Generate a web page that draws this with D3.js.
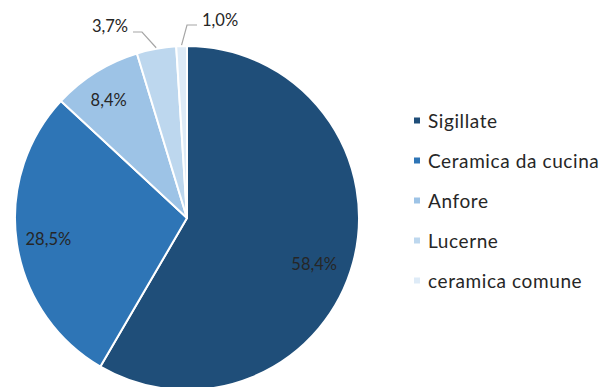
<!DOCTYPE html>
<html>
<head>
<meta charset="utf-8">
<script src="https://cdn.jsdelivr.net/npm/d3@7"></script>
<style>
  html, body { margin: 0; padding: 0; background: #fff; }
  svg text { font-family: Lato, "Open Sans", sans-serif; fill: #262626; }
</style>
</head>
<body>
<svg id="chart" width="599" height="387"></svg>
<script>
// Composition of finds by ware class (percent)
const categories = ["Sigillate", "Ceramica da cucina", "Anfore", "Lucerne", "ceramica comune"];
const values = [58.4, 28.5, 8.4, 3.7, 1.0];
const colors = ["#1F4E79", "#2E75B6", "#9DC3E6", "#BDD7EE", "#DEEBF7"];

const svg = d3.select("#chart");
const cx = 187, cy = 218, r = 172;

const pie = d3.pie().sort(null).value(d => d.value);
const arcs = pie(categories.map((c, i) => ({ name: c, value: values[i], color: colors[i] })));
const arc = d3.arc().innerRadius(0).outerRadius(r);

const g = svg.append("g").attr("transform", `translate(${cx},${cy})`);

g.selectAll("path.slice")
  .data(arcs)
  .join("path")
  .attr("class", "slice")
  .attr("d", arc)
  .attr("fill", d => d.data.color)
  .attr("stroke", "#fff")
  .attr("stroke-width", 2)
  .attr("stroke-linejoin", "round");

const fmt = v => v.toFixed(1).replace(".", ",") + "%";

// Inner labels for the larger slices: radial fraction along the bisector plus a small nudge
const inner = {
  0: { f: 0.79, dx: -4, dy: 11 },
  1: { f: 0.815, dx: 0, dy: 0 },
  2: { f: 0.826, dx: -3, dy: 2 }
};
arcs.forEach((d, i) => {
  const p = inner[i];
  if (!p) return;
  const a = (d.startAngle + d.endAngle) / 2;
  const rr = r * p.f;
  g.append("text")
    .attr("x", Math.sin(a) * rr + p.dx)
    .attr("y", -Math.cos(a) * rr + p.dy)
    .attr("text-anchor", "middle")
    .attr("dominant-baseline", "central")
    .attr("font-size", 16.5)
    .text(fmt(d.data.value));
});

// Small slices get outside labels with elbow leader lines
const outside = [
  { i: 3, lx: -59, ly: -192, anchor: "end", line: [[-54, -186], [-45, -186]] },
  { i: 4, lx: 15, ly: -198, anchor: "start", line: [[10, -193], [0, -193]] }
];
outside.forEach(o => {
  const d = arcs[o.i];
  const a = (d.startAngle + d.endAngle) / 2;
  const px = Math.sin(a) * (r + 1), py = -Math.cos(a) * (r + 1);
  const pts = [...o.line, [px, py]];
  g.append("polyline")
    .attr("points", pts.map(p => p.join(",")).join(" "))
    .attr("fill", "none")
    .attr("stroke", "#a6a6a6")
    .attr("stroke-width", 1.2);
  g.append("text")
    .attr("x", o.lx)
    .attr("y", o.ly)
    .attr("text-anchor", o.anchor)
    .attr("dominant-baseline", "central")
    .attr("font-size", 16.5)
    .text(fmt(d.data.value));
});

// Legend
const legend = svg.append("g").attr("transform", "translate(414,120.5)");
const rows = legend.selectAll("g.row")
  .data(categories)
  .join("g")
  .attr("class", "row")
  .attr("transform", (d, i) => `translate(0,${i * 40})`);
rows.append("rect")
  .attr("x", 0).attr("y", -3)
  .attr("width", 6).attr("height", 6)
  .attr("fill", (d, i) => colors[i]);
rows.append("text")
  .attr("x", 14)
  .attr("y", 0)
  .attr("dominant-baseline", "central")
  .attr("font-size", 19)
  .attr("letter-spacing", 0.6)
  .text(d => d);
</script>
</body>
</html>
